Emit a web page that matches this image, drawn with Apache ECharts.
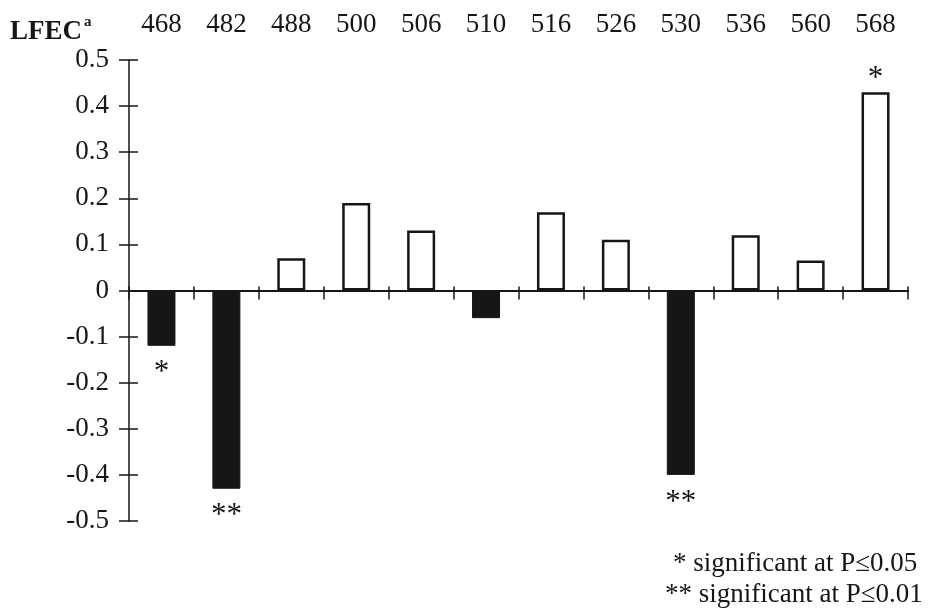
<!DOCTYPE html>
<html lang="en">
<head>
    <meta charset="UTF-8">
    <title>LFEC by allele</title>
    <script src="https://cdn.jsdelivr.net/npm/echarts@6/dist/echarts.min.js"></script>
    <style>
        html, body { margin: 0; padding: 0; background: #fff; }
        #main { width: 951px; height: 610px; }
    </style>
</head>
<body>
    <div id="main"></div>
    <script>
        // allele sizes (bp), printed along the top
        var alleles = ['468', '482', '488', '500', '506', '510', '516', '526', '530', '536', '560', '568'];
        // LFEC value per allele
        var lfec = [-0.12, -0.43, 0.07, 0.19, 0.13, -0.06, 0.17, 0.11, -0.40, 0.12, 0.065, 0.43];
        // significance marks under / over the bars
        var sig = ['*', '**', '', '', '', '', '', '', '**', '', '', '*'];
        // y axis range
        var yMin = -0.5, yMax = 0.5, yStep = 0.1;

        var ink = '#161616';
        var serif = '"Liberation Serif", "DejaVu Serif", serif';

        var barData = lfec.map(function (v, i) {
            var neg = v < 0;
            return {
                value: v,
                itemStyle: neg
                    ? { color: ink, borderColor: ink, borderWidth: 1 }
                    : { color: '#fff', borderColor: ink, borderWidth: 2.5 },
                label: {
                    show: sig[i] !== '',
                    position: neg ? 'bottom' : 'top',
                    distance: neg ? 12 : -2,
                    formatter: sig[i]
                }
            };
        });

        var myChart = echarts.init(document.getElementById('main'));

        var gridBox = { left: 129, right: 43, top: 60, bottom: 89 };
        var gridW = 951 - gridBox.left - gridBox.right;

        option = {
            backgroundColor: '#fff',
            animation: false,
            grid: [
                Object.assign({}, gridBox),
                Object.assign({}, gridBox)
            ],
            xAxis: [
                {   // zero line, ticks pointing down
                    type: 'category', gridIndex: 0, position: 'bottom',
                    data: alleles,
                    axisLine: { onZero: true, onZeroAxisIndex: 0, lineStyle: { color: ink, width: 2 } },
                    axisTick: { show: true, length: 9, lineStyle: { color: ink, width: 1.5 } },
                    axisLabel: { show: false }
                },
                {   // short ticks pointing up on the zero line
                    type: 'category', gridIndex: 0, position: 'top',
                    data: alleles,
                    axisLine: { onZero: true, onZeroAxisIndex: 0, lineStyle: { color: ink, width: 2 } },
                    axisTick: { show: true, length: 4, lineStyle: { color: ink, width: 1.5 } },
                    axisLabel: { show: false }
                },
                {   // allele labels along the top
                    type: 'category', gridIndex: 1, position: 'top',
                    data: alleles,
                    axisLine: { show: false, onZero: false },
                    axisTick: { show: false },
                    axisLabel: { margin: 22, color: ink, fontFamily: serif, fontSize: 27 }
                }
            ],
            yAxis: [
                {
                    type: 'value', gridIndex: 0, position: 'left',
                    min: yMin, max: yMax, interval: yStep,
                    axisLine: { show: true, onZero: false, lineStyle: { color: ink, width: 1.5 } },
                    axisTick: { show: true, length: 10, lineStyle: { color: ink, width: 1.5 } },
                    axisLabel: { margin: 20, color: ink, fontFamily: serif, fontSize: 27 },
                    splitLine: { show: false }
                },
                {   // right-hand half of the crossing ticks, moved onto the left axis
                    type: 'value', gridIndex: 0, position: 'right', offset: -gridW,
                    min: yMin, max: yMax, interval: yStep,
                    axisLine: { show: false, onZero: false },
                    axisTick: { show: true, length: 9, lineStyle: { color: ink, width: 1.5 } },
                    axisLabel: { show: false },
                    splitLine: { show: false }
                },
                {
                    type: 'value', gridIndex: 1, show: false,
                    min: yMin, max: yMax, interval: yStep
                }
            ],
            graphic: [
                {
                    type: 'text', left: 10, top: 19,
                    style: { text: 'LFEC', fill: ink, font: 'bold 27px ' + serif }
                },
                {
                    type: 'text', left: 84, top: 15,
                    style: { text: 'a', fill: ink, font: 'bold 15px ' + serif }
                },
                {
                    type: 'text', left: 673, top: 550,
                    style: { text: '* significant at P\u22640.05', fill: ink, font: '27px ' + serif }
                },
                {
                    type: 'text', left: 665, top: 581,
                    style: { text: '** significant at P\u22640.01', fill: ink, font: '27px ' + serif }
                }
            ],
            series: [
                {
                    name: 'LFEC',
                    type: 'bar',
                    xAxisIndex: 0, yAxisIndex: 0,
                    barWidth: 28,
                    data: barData,
                    label: { color: ink, fontFamily: serif, fontSize: 31 }
                }
            ]
        };

        myChart.setOption(option);
    </script>
</body>
</html>
